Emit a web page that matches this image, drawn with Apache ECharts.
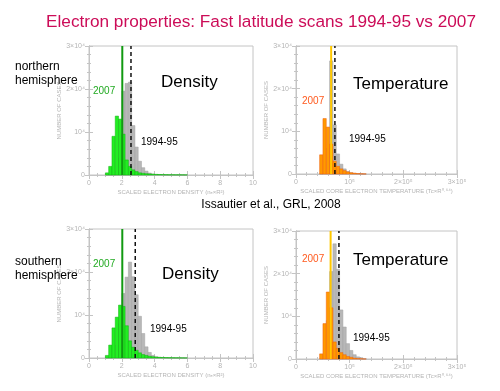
<!DOCTYPE html>
<html>
<head>
<meta charset="utf-8">
<script src="https://cdn.jsdelivr.net/npm/echarts@6/dist/echarts.min.js"></script>
<style>html,body{margin:0;padding:0;background:#fff;}#c{width:500px;height:391px;}</style>
</head>
<body>
<div id="c"></div>
<script>
// ---- data ----
const densityBinStarts = [1.0,1.2,1.4,1.6,1.8,2.0,2.2,2.4,2.6,2.8,3.0,3.2,3.4,3.6,3.8,4.0,4.2,4.4,4.6,4.8,5.0,5.2,5.4,5.6,5.8];
const densityBinWidth = 0.2;
const north2007Density = [500,2000,9000,13700,13000,9500,3500,2000,1200,800,500,400,300,250,200,150,120,100,80,60,60,50,50,40,30];
const north9495Density = [0,0,0,1000,4000,19500,21300,21600,11500,6500,3200,1700,900,450,220,120,60,30,0,0,0,0,0,0,0];
const south2007Density = [600,3000,7000,9500,12300,12000,7500,4000,2500,1800,1200,800,600,400,300,200,150,120,100,80,60,50,40,30,20];
const south9495Density = [0,0,1000,3000,8000,15000,18800,22300,18900,14700,9700,5700,2600,1300,600,300,150,80,40,0,0,0,0,0,0];

const tempBinStarts = [44000,50200,56400,62600,68800,75000,81200,87400,93600,99800,106000,112200,118400,124600];
const tempBinWidth = 6200;
const north2007Temp = [4500,13000,11000,7000,3000,1800,1200,800,500,300,200,100,50,30];
const north9495Temp = [0,1000,6000,26500,11500,4700,2300,1200,600,300,150,80,40,0];
const south2007Temp = [1200,8300,15700,12000,4000,2500,1500,1000,600,400,200,100,50,0];
const south9495Temp = [0,1000,9000,20500,27000,21000,11500,7500,3600,2000,1000,500,300,100];

// median markers
const northDensityMarks = {y2007: 2.03, y9495: 2.56};
const southDensityMarks = {y2007: 2.03, y9495: 2.82};
const northTempMarks = {y2007: 65500, y9495: 72500};
const southTempMarks = {y2007: 64500, y9495: 80000};

const yTickLabels = ['0','10\u2074','2\u00d710\u2074','3\u00d710\u2074'];
const densityTickLabels = ['0','2','4','6','8','10'];
const tempTickLabels = ['0','10\u2075','2\u00d710\u2075','3\u00d710\u2075'];

// ---- chart ----
const FONT = '"Liberation Sans", Arial, sans-serif';
const AX = '#c4c4c4';
const LBL = '#b4b4b4';

function bins(starts, width, counts) {
  return starts.map((s, i) => [s, s + width, counts[i]]);
}
function rectItem(params, api) {
  const a = api.coord([api.value(0), api.value(2)]);
  const b = api.coord([api.value(1), 0]);
  return {type: 'rect', shape: {x: a[0], y: a[1], width: b[0] - a[0], height: b[1] - a[1]}, style: api.style()};
}

const grids = [
  {left: 89, top: 46, width: 164, height: 129},
  {left: 296, top: 46, width: 161, height: 128},
  {left: 89, top: 229, width: 164, height: 129},
  {left: 296, top: 231, width: 161, height: 128}
];

const xAxis = [], yAxis = [];
const kinds = ['d', 't', 'd', 't'];
kinds.forEach((k, g) => {
  const isD = k === 'd';
  const common = {
    type: 'value', gridIndex: g, min: 0, max: isD ? 10 : 300000, interval: isD ? 2 : 100000,
    axisLine: {show: true, lineStyle: {color: AX, width: 1}},
    axisTick: {show: true, inside: true, length: 4, lineStyle: {color: AX}},
    minorTick: {show: true, splitNumber: isD ? 4 : 5, length: 2, lineStyle: {color: AX}},
    splitLine: {show: false}
  };
  xAxis.push(Object.assign({}, common, {
    position: 'bottom',
    name: isD ? 'SCALED ELECTRON DENSITY (n\u2091\u00d7R\u00b2)' : 'SCALED CORE ELECTRON TEMPERATURE (Tc\u00d7R\u2070\u00b7\u2076\u2074)',
    nameLocation: 'middle', nameGap: 14,
    nameTextStyle: {color: LBL, fontSize: 6, fontFamily: FONT},
    axisLabel: {color: LBL, fontSize: 7, fontFamily: FONT, margin: 5,
      formatter: v => isD ? densityTickLabels[Math.round(v / 2)] : tempTickLabels[Math.round(v / 100000)]}
  }));
  xAxis.push(Object.assign({}, common, {position: 'top', axisLabel: {show: false}}));
  const ycommon = {
    type: 'value', gridIndex: g, min: 0, max: 30000, interval: 10000,
    axisLine: {show: true, lineStyle: {color: AX, width: 1}},
    axisTick: {show: true, inside: true, length: 4, lineStyle: {color: AX}},
    minorTick: {show: true, splitNumber: 5, length: 2, lineStyle: {color: AX}},
    splitLine: {show: false}
  };
  yAxis.push(Object.assign({}, ycommon, {
    position: 'left',
    name: 'NUMBER OF CASES', nameLocation: 'middle', nameGap: 21, nameRotate: 90,
    nameTextStyle: {color: LBL, fontSize: 6, fontFamily: FONT},
    axisLabel: {color: LBL, fontSize: 7, fontFamily: FONT, margin: 4,
      formatter: v => yTickLabels[Math.round(v / 10000)]}
  }));
  yAxis.push(Object.assign({}, ycommon, {position: 'right', axisLabel: {show: false}}));
});

const series = [];
function addPanel(g, grayData, colorData, color, border, marks, markColor) {
  const xi = g * 2, yi = g * 2;
  series.push({type: 'custom', xAxisIndex: xi, yAxisIndex: yi, renderItem: rectItem,
    encode: {x: [0, 1], y: 2}, data: grayData, z: 2,
    itemStyle: {color: '#b8b8b8', borderColor: '#a0a0a0', borderWidth: 0.5}});
  series.push({type: 'custom', xAxisIndex: xi, yAxisIndex: yi, renderItem: rectItem,
    encode: {x: [0, 1], y: 2}, data: colorData, z: 3,
    itemStyle: {color: color, borderColor: border, borderWidth: 0.5}});
  series.push({type: 'line', xAxisIndex: xi, yAxisIndex: yi, z: 5, showSymbol: false, silent: true,
    data: [[marks.y2007, 0], [marks.y2007, 30000]], lineStyle: {color: markColor, width: 2}});
  series.push({type: 'line', xAxisIndex: xi, yAxisIndex: yi, z: 6, showSymbol: false, silent: true,
    data: [[marks.y9495, 0], [marks.y9495, 30000]], lineStyle: {color: '#111', width: 1.5, type: [4, 3]}});
}
addPanel(0, bins(densityBinStarts, densityBinWidth, north9495Density), bins(densityBinStarts, densityBinWidth, north2007Density), '#22ee22', '#13b013', northDensityMarks, '#119a11');
addPanel(1, bins(tempBinStarts, tempBinWidth, north9495Temp), bins(tempBinStarts, tempBinWidth, north2007Temp), '#ff9900', '#f06010', northTempMarks, '#ffc800');
addPanel(2, bins(densityBinStarts, densityBinWidth, south9495Density), bins(densityBinStarts, densityBinWidth, south2007Density), '#22ee22', '#13b013', southDensityMarks, '#119a11');
addPanel(3, bins(tempBinStarts, tempBinWidth, south9495Temp), bins(tempBinStarts, tempBinWidth, south2007Temp), '#ff9900', '#f06010', southTempMarks, '#ffc800');

function txt(x, y, text, size, color, align) {
  return {type: 'text', x: x, y: y, z: 10,
    style: {text: text, fontSize: size, fill: color, fontFamily: FONT, align: align || 'left', verticalAlign: 'middle', lineHeight: size + 2}};
}
const graphic = [
  txt(261, 22, 'Electron properties: Fast latitude scans 1994-95 vs 2007', 17.2, '#cc0c58', 'center'),
  txt(15, 74, 'northern\nhemisphere', 12, '#000'),
  txt(15, 269, 'southern\nhemisphere', 12, '#000'),
  txt(271, 205, 'Issautier et al., GRL, 2008', 12, '#000', 'center'),
  txt(161, 82, 'Density', 17, '#000'),
  txt(353, 84, 'Temperature', 17, '#000'),
  txt(162, 274, 'Density', 17, '#000'),
  txt(353, 260, 'Temperature', 17, '#000'),
  txt(93, 91, '2007', 10, '#22aa22'),
  txt(141, 142, '1994-95', 10, '#000'),
  txt(302, 101, '2007', 10, '#ff5a1e'),
  txt(349, 139, '1994-95', 10, '#000'),
  txt(93, 264, '2007', 10, '#22aa22'),
  txt(150, 329, '1994-95', 10, '#000'),
  txt(302, 259, '2007', 10, '#ff5a1e'),
  txt(353, 338, '1994-95', 10, '#000')
];

const chart = echarts.init(document.getElementById('c'));
chart.setOption({
  animation: false,
  backgroundColor: '#fff',
  grid: grids.map(g => Object.assign({show: true, borderColor: AX, borderWidth: 1, backgroundColor: 'transparent'}, g)),
  xAxis: xAxis,
  yAxis: yAxis,
  series: series,
  graphic: graphic
});
</script>
</body>
</html>
